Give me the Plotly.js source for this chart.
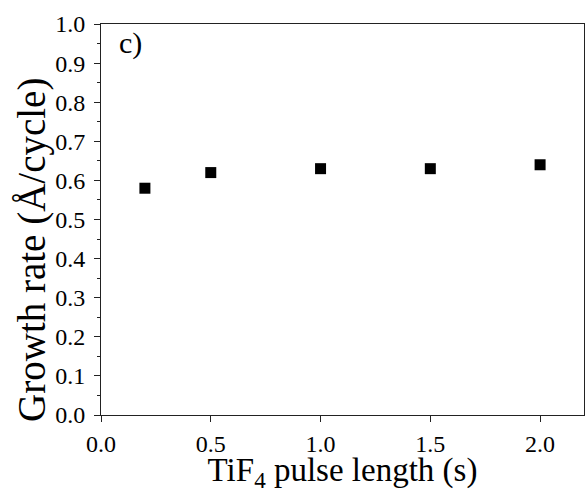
<!DOCTYPE html>
<html>
<head>
<meta charset="utf-8">
<script src="https://cdn.plot.ly/plotly-3.0.1.min.js"></script>
<style>html,body{margin:0;padding:0;background:#fff;}#chart{width:588px;height:493px;}</style>
</head>
<body>
<div id="chart"></div>
<script>
const pulseLength = [0.2, 0.5, 1.0, 1.5, 2.0];
const growthRate = [0.58, 0.62, 0.63, 0.63, 0.64];
const xTickVals = [0.0, 0.5, 1.0, 1.5, 2.0];
const xTickText = ['0.0', '0.5', '1.0', '1.5', '2.0'];
const yTickVals = [0.0, 0.1, 0.2, 0.3, 0.4, 0.5, 0.6, 0.7, 0.8, 0.9, 1.0];
const yTickText = ['0.0', '0.1', '0.2', '0.3', '0.4', '0.5', '0.6', '0.7', '0.8', '0.9', '1.0'];
const panelLabel = 'c)';
const xTitle = 'TiF<sub>4</sub> pulse length (s)';
const yTitle = 'Growth rate (Å/cycle)';

const serif = '"Liberation Serif", "Times New Roman", serif';
const trace = {
  x: pulseLength, y: growthRate, type: 'scatter', mode: 'markers',
  marker: {symbol: 'square', size: 11, color: '#000'},
  showlegend: false, hoverinfo: 'none'
};
const layout = {
  width: 588, height: 493,
  margin: {l: 101, r: 4, t: 24, b: 78},
  paper_bgcolor: '#fff', plot_bgcolor: '#fff',
  font: {family: serif, color: '#000', size: 24},
  xaxis: {
    range: [0, 2.2], tickmode: 'array', tickvals: xTickVals, ticktext: xTickText,
    ticks: 'outside', ticklen: 6, tickwidth: 1, tickcolor: '#222',
    showline: true, linecolor: '#222', linewidth: 1, mirror: true,
    showgrid: false, zeroline: false,
    tickfont: {size: 24, family: serif, color: '#000'},
    ticklabelstandoff: 1,
    title: {text: xTitle, font: {size: 33, family: serif, color: '#000'}, standoff: 9}
  },
  yaxis: {
    range: [0, 1.0], tickmode: 'array', tickvals: yTickVals, ticktext: yTickText,
    ticks: 'outside', ticklen: 6, tickwidth: 1, tickcolor: '#222',
    minor: {dtick: 0.05, ticks: 'outside', ticklen: 3, tickcolor: '#222', showgrid: false},
    showline: true, linecolor: '#222', linewidth: 1, mirror: true,
    showgrid: false, zeroline: false,
    tickfont: {size: 24, family: serif, color: '#000'},
    ticklabelstandoff: 4
  },
  annotations: [{
    text: panelLabel, xref: 'paper', yref: 'paper', x: 0.033, y: 0.951,
    xanchor: 'left', yanchor: 'middle', showarrow: false,
    font: {size: 30, family: serif, color: '#000'}
  }, {
    text: yTitle, xref: 'paper', yref: 'paper', x: -0.143, y: 0.422,
    xanchor: 'center', yanchor: 'middle', textangle: -90, showarrow: false,
    font: {size: 39, family: serif, color: '#000'}
  }]
};
Plotly.newPlot('chart', [trace], layout, {staticPlot: true, displayModeBar: false});
</script>
</body>
</html>
